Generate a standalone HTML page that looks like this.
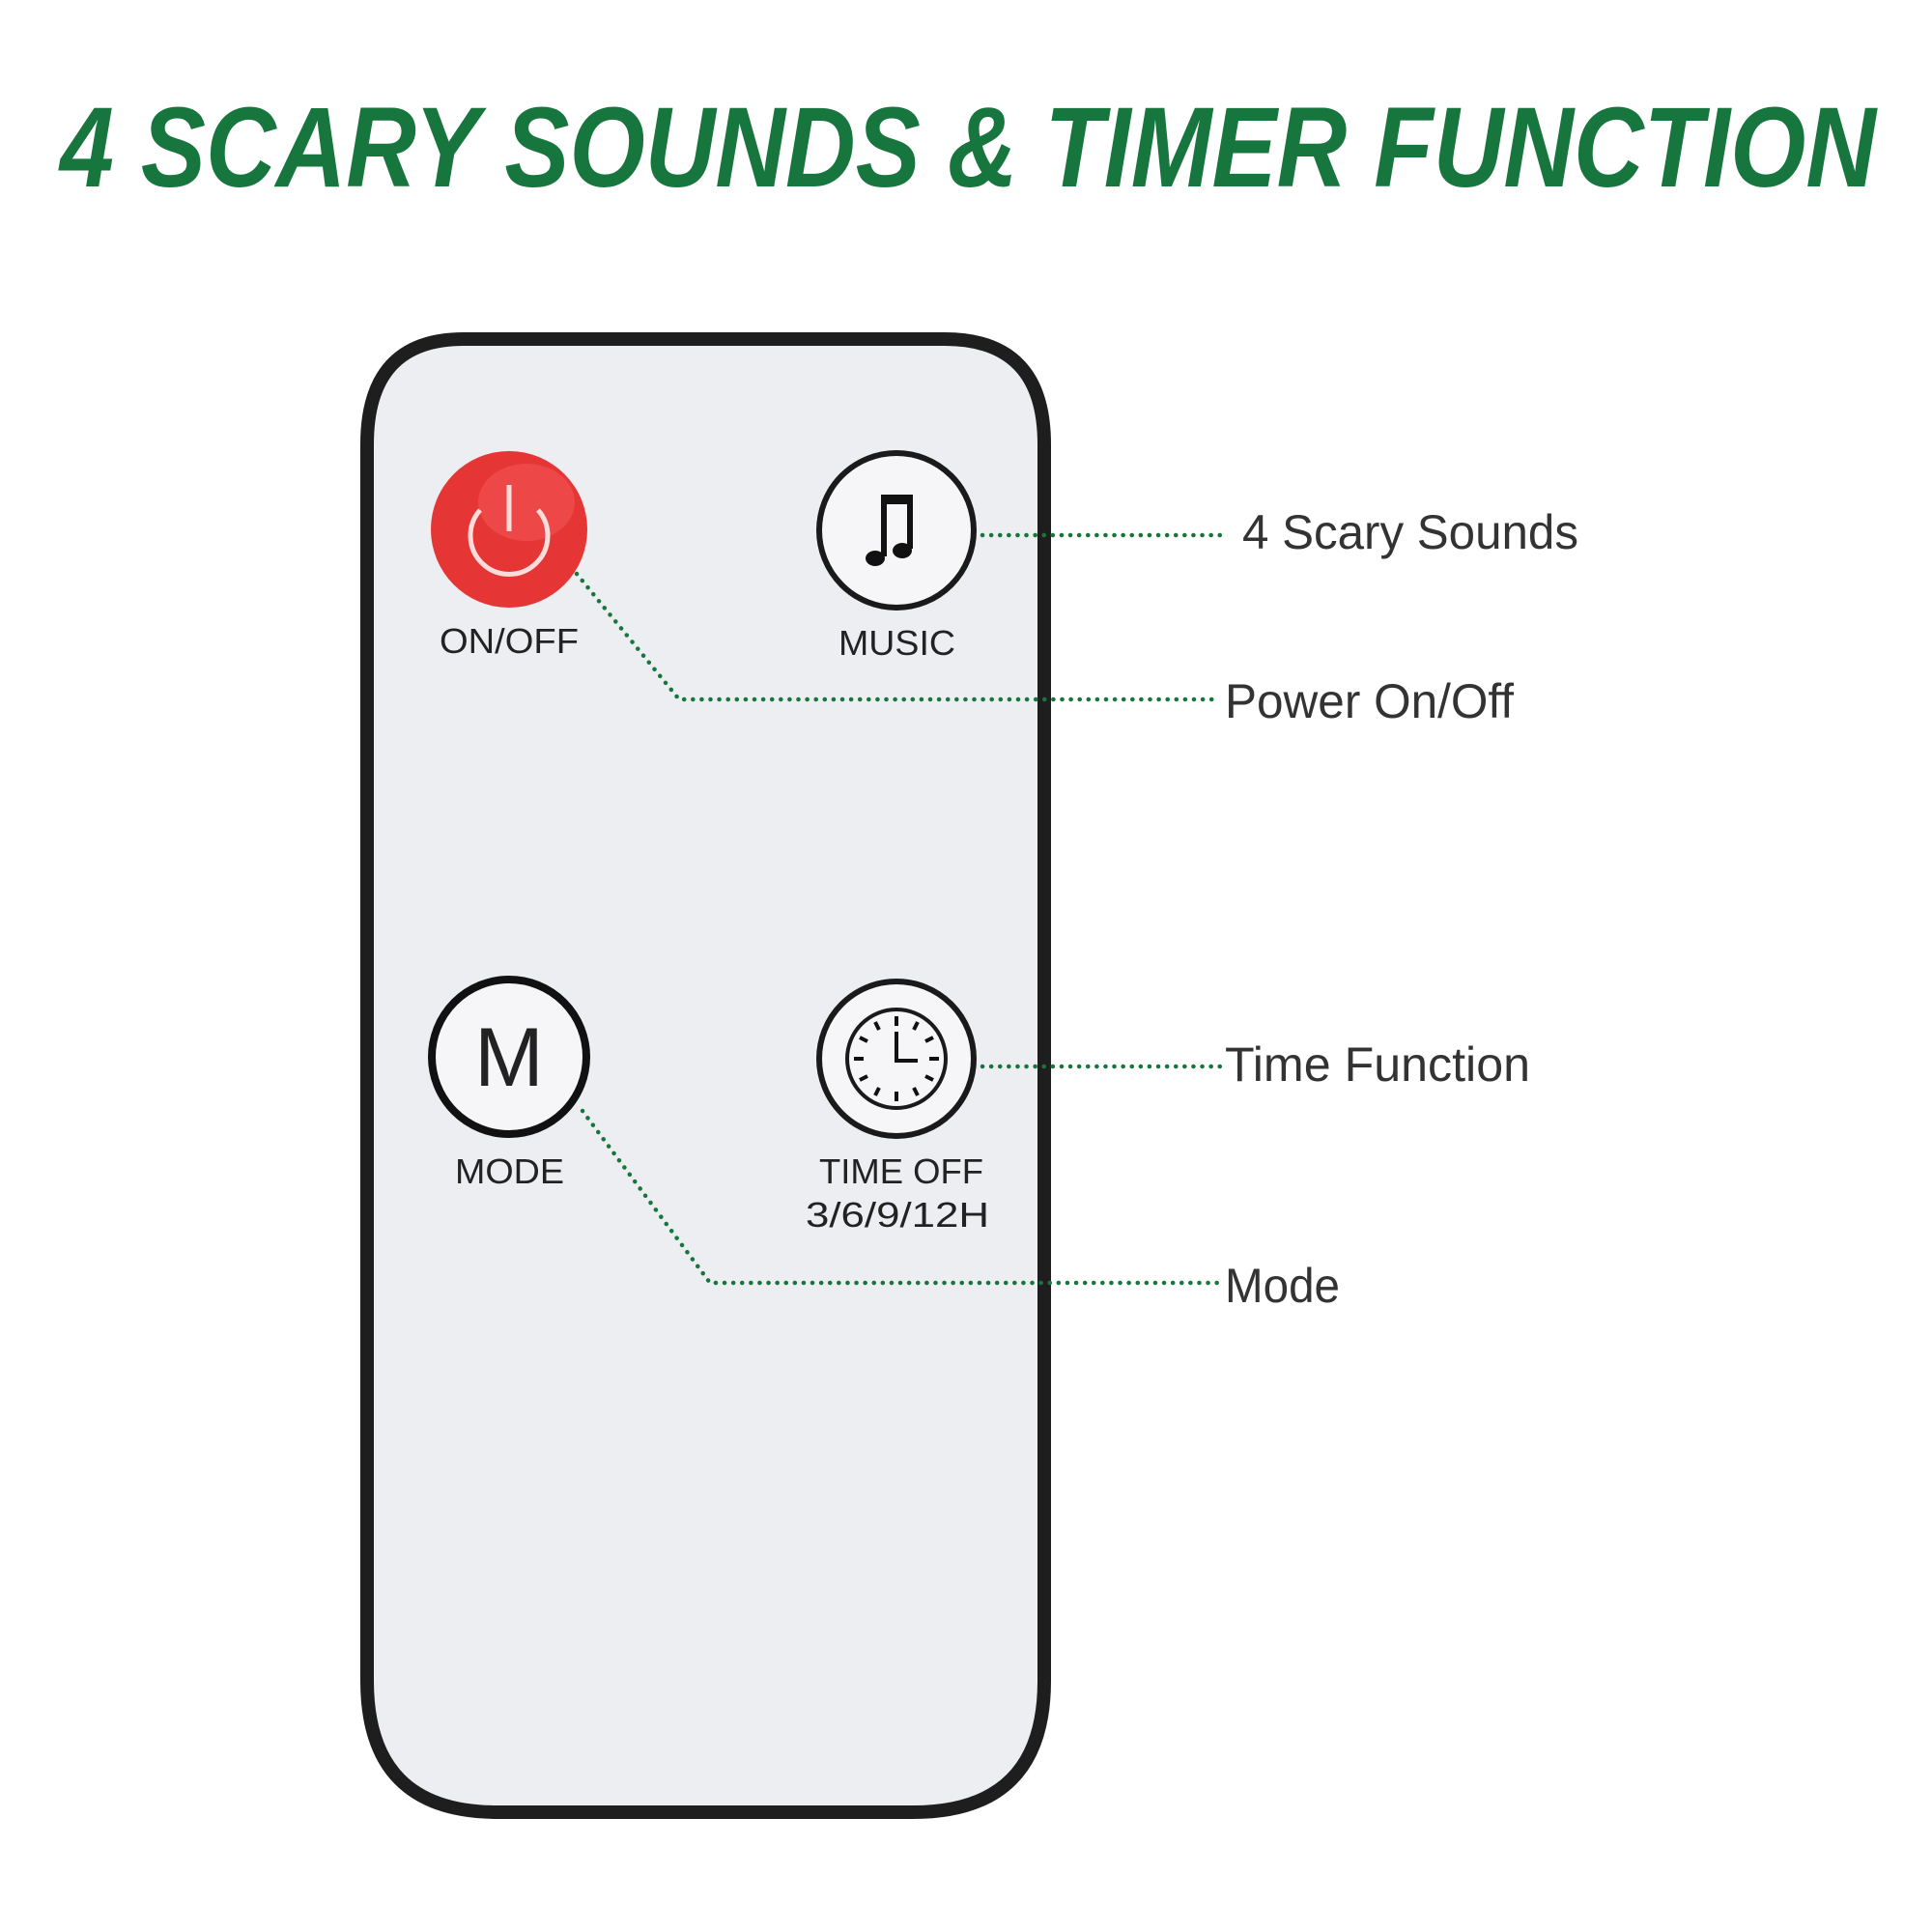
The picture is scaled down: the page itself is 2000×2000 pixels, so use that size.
<!DOCTYPE html>
<html><head><meta charset="utf-8"><style>html,body{margin:0;padding:0;background:#fff}svg{display:block}</style></head>
<body>
<svg width="2000" height="2000" viewBox="0 0 2000 2000" xmlns="http://www.w3.org/2000/svg">
<rect width="2000" height="2000" fill="#fff"/>
<text x="62" y="193" font-family="Liberation Sans Narrow, Liberation Sans, sans-serif" font-weight="bold" font-style="italic" font-size="118" fill="#17763d" textLength="1880" lengthAdjust="spacingAndGlyphs">4 SCARY SOUNDS &amp; TIMER FUNCTION</text>

<path d="M480,351 L978,351 Q1081,351 1081,460 L1081,1740 Q1081,1876 945,1876 L515,1876 Q380,1876 380,1740 L380,460 Q380,351 480,351 Z" fill="#edeef2" stroke="#1e1e1e" stroke-width="14"/>

<circle cx="527" cy="548" r="81" fill="#e53535"/>
<ellipse cx="545" cy="520" rx="50" ry="40" fill="#ff6a6a" opacity="0.35"/>
<path d="M497,528 A40,40 0 1 0 557,528" fill="none" stroke="#ffdcdc" stroke-width="5"/>
<line x1="527" y1="502" x2="527" y2="550" stroke="#ffdcdc" stroke-width="5"/>
<text x="455" y="676" font-family="Liberation Sans, sans-serif" font-size="36" fill="#222" textLength="144" lengthAdjust="spacingAndGlyphs">ON/OFF</text>

<circle cx="928" cy="549" r="80" fill="#f6f6f8" stroke="#1a1a1a" stroke-width="6"/>
<path d="M912,512 L945,512 L945,522 L918,522 Z" fill="#111"/>
<rect x="912" y="512" width="6" height="64" fill="#111"/>
<rect x="939" y="512" width="6" height="56" fill="#111"/>
<ellipse cx="906" cy="578" rx="10" ry="8" fill="#111"/>
<ellipse cx="934" cy="570" rx="10" ry="8" fill="#111"/>
<text x="868" y="678" font-family="Liberation Sans, sans-serif" font-size="36" fill="#222" textLength="121" lengthAdjust="spacingAndGlyphs">MUSIC</text>

<circle cx="527" cy="1094" r="80" fill="#f6f6f8" stroke="#111" stroke-width="8"/>
<text x="527" y="1124" text-anchor="middle" font-family="Liberation Sans, sans-serif" font-size="86" fill="#222">M</text>
<text x="471" y="1225" font-family="Liberation Sans, sans-serif" font-size="36" fill="#222" textLength="113" lengthAdjust="spacingAndGlyphs">MODE</text>

<circle cx="928" cy="1096" r="80" fill="#f6f6f8" stroke="#1a1a1a" stroke-width="6"/>
<circle cx="928" cy="1096" r="51" fill="#f6f6f8" stroke="#1a1a1a" stroke-width="4"/>
<g stroke="#111" stroke-width="4">
<line x1="928" y1="1052" x2="928" y2="1062"/><line x1="928" y1="1130" x2="928" y2="1140"/>
<line x1="884" y1="1096" x2="894" y2="1096"/><line x1="962" y1="1096" x2="972" y2="1096"/>
<line x1="906" y1="1058" x2="910" y2="1066"/><line x1="950" y1="1058" x2="946" y2="1066"/>
<line x1="890" y1="1074" x2="898" y2="1078"/><line x1="966" y1="1074" x2="958" y2="1078"/>
<line x1="890" y1="1118" x2="898" y2="1114"/><line x1="966" y1="1118" x2="958" y2="1114"/>
<line x1="906" y1="1134" x2="910" y2="1126"/><line x1="950" y1="1134" x2="946" y2="1126"/>
<line x1="928" y1="1068" x2="928" y2="1100"/><line x1="926" y1="1098" x2="950" y2="1098"/>
</g>
<text x="848" y="1225" font-family="Liberation Sans, sans-serif" font-size="36" fill="#222" textLength="170" lengthAdjust="spacingAndGlyphs">TIME OFF</text>
<text x="834" y="1270" font-family="Liberation Sans, sans-serif" font-size="36" fill="#222" textLength="190" lengthAdjust="spacingAndGlyphs">3/6/9/12H</text>

<g fill="none" stroke="#17763d" stroke-width="4.5" stroke-dasharray="0.1 9" stroke-linecap="round">
<polyline points="1017,554 1263,554"/>
<polyline points="597,594 703,724 1263,724"/>
<polyline points="1017,1104 1263,1104"/>
<polyline points="603,1150 735,1328 1263,1328"/>
</g>

<g font-family="Liberation Sans, sans-serif" font-size="50" fill="#333">
<text x="1286" y="568" textLength="348" lengthAdjust="spacingAndGlyphs">4 Scary Sounds</text>
<text x="1268" y="743" textLength="299" lengthAdjust="spacingAndGlyphs">Power On/Off</text>
<text x="1268" y="1119" textLength="316" lengthAdjust="spacingAndGlyphs">Time Function</text>
<text x="1268" y="1348" textLength="119" lengthAdjust="spacingAndGlyphs">Mode</text>
</g>
</svg>
</body></html>
